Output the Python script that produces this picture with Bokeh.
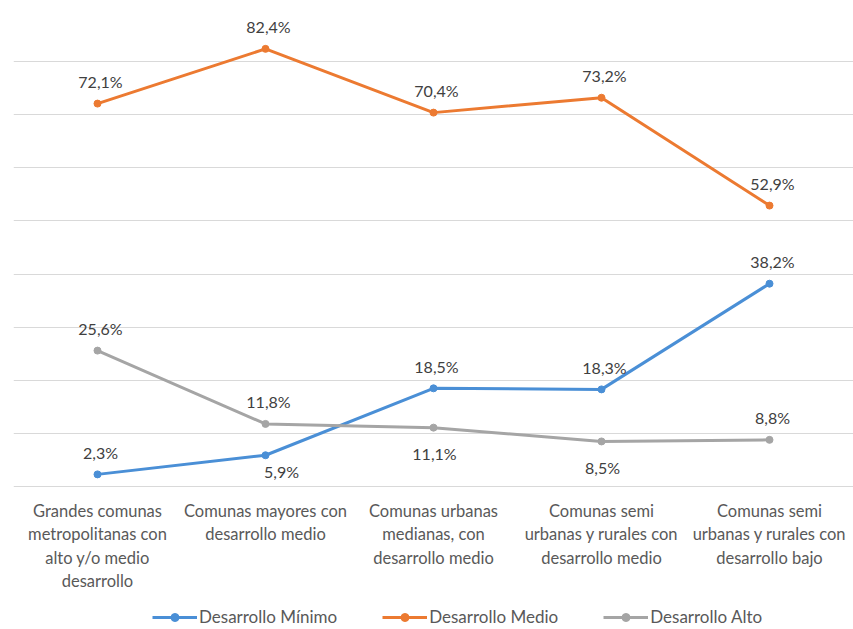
from bokeh.plotting import figure
from bokeh.models import ColumnDataSource, Range1d, FixedTicker, Legend, LegendItem, LabelSet
from bokeh.core.properties import value
from bokeh.embed import file_html
from bokeh.resources import INLINE

categories = [
    "Grandes comunas\nmetropolitanas con\nalto y/o medio\ndesarrollo",
    "Comunas mayores con\ndesarrollo medio",
    "Comunas urbanas\nmedianas, con\ndesarrollo medio",
    "Comunas semi\nurbanas y rurales con\ndesarrollo medio",
    "Comunas semi\nurbanas y rurales con\ndesarrollo bajo",
]
desarrollo_minimo = [2.3, 5.9, 18.5, 18.3, 38.2]
desarrollo_medio = [72.1, 82.4, 70.4, 73.2, 52.9]
desarrollo_alto = [25.6, 11.8, 11.1, 8.5, 8.8]
series_names = ["Desarrollo Mínimo", "Desarrollo Medio", "Desarrollo Alto"]
y_ticks = [0, 10, 20, 30, 40, 50, 60, 70, 80, 90]

# data-label offsets in screen px (dx, dy), positive dy = above the point
label_offsets = {
    "Desarrollo Mínimo": [(3, 22), (16, -16), (3, 22), (3, 22), (3, 22)],
    "Desarrollo Medio": [(3, 22), (3, 22), (3, 22), (3, 22), (3, 22)],
    "Desarrollo Alto": [(3, 22), (3, 22), (1, -26), (1, -26), (3, 22)],
}
colors = {"Desarrollo Mínimo": "#4A8FD6", "Desarrollo Medio": "#EC7A31", "Desarrollo Alto": "#A5A5A5"}
FONT = "Lato"

# frame spans the whole lower area so the category labels and legend sit inside it
p = figure(width=853, height=629, output_backend="svg", toolbar_location=None,
           x_range=Range1d(-0.5, 4.5), y_range=Range1d(-26.9, 90),
           min_border_left=13, min_border_right=0, min_border_top=8, min_border_bottom=0)
p.outline_line_color = None
p.yaxis.visible = False
p.xaxis.visible = False
p.ygrid.ticker = FixedTicker(ticks=y_ticks)
p.ygrid.grid_line_color = "#D9D9D9"
p.ygrid.grid_line_width = 1
p.xgrid.visible = False

xs = list(range(len(categories)))

# category labels: one centred label per text line
cx, cy, ct, co = [], [], [], []
for i, c in enumerate(categories):
    for j, line in enumerate(c.split("\n")):
        cx.append(i)
        cy.append(0)
        ct.append(line)
        co.append(-24 - 23.5 * j)
cat_src = ColumnDataSource(dict(x=cx, y=cy, txt=ct, yo=co))
p.add_layout(LabelSet(x="x", y="y", text="txt", source=cat_src, y_offset="yo",
                      text_align="center", text_baseline="middle",
                      text_font=value(FONT), text_font_size="16.5px", text_color="#595959"))

items = []
for name, vals in zip(series_names, [desarrollo_minimo, desarrollo_medio, desarrollo_alto]):
    offs = label_offsets[name]
    src = ColumnDataSource(dict(x=xs, y=vals,
                                txt=[f"{v:.1f}%".replace(".", ",") for v in vals],
                                xo=[o[0] for o in offs], yo=[o[1] for o in offs]))
    lr = p.line("x", "y", source=src, line_color=colors[name], line_width=3)
    cr = p.scatter("x", "y", source=src, size=7, fill_color=colors[name], line_color=colors[name])
    labels = LabelSet(x="x", y="y", text="txt", source=src, y_offset="yo", x_offset="xo",
                      text_align="center", text_baseline="middle",
                      text_font=value(FONT), text_font_size="16px", text_color="#404040")
    p.add_layout(labels)
    items.append(LegendItem(label=name, renderers=[lr, cr]))

legend = Legend(items=items, orientation="horizontal", location=(139, 2),
                label_text_font=FONT, label_text_font_size="17px", label_text_color="#595959",
                glyph_width=45, label_standoff=2, spacing=45, padding=0, margin=0,
                border_line_color=None, background_fill_alpha=0)
p.add_layout(legend, "center")

open("out.html", "w").write(file_html(p, INLINE))
